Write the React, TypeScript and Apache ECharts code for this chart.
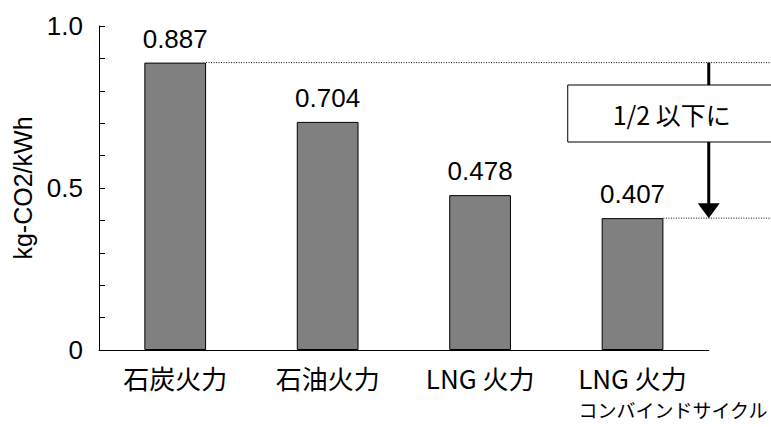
import React, { useEffect, useRef } from 'react';
import * as echarts from 'echarts';

const categories = ['石炭火力', '石油火力', 'LNG 火力', 'LNG 火力\nコンバインドサイクル'];
const values = [0.887, 0.704, 0.478, 0.407];
const yTickValues = [0, 0.5, 1];
const yTickLabels = ['0', '0.5', '1.0'];
const yAxisName = 'kg-CO2/kWh';
const noteText = '1/2 以下に';

const JP = '"Noto Sans CJK JP", "Noto Sans", sans-serif';
const LAT = '"Liberation Sans", Arial, sans-serif';

export default function App() {
  const ref = useRef<HTMLDivElement>(null);
  useEffect(() => {
    document.body.style.margin = '0';
    const chart = echarts.init(ref.current!, null, { renderer: 'svg' });
    const barPct = 0.405;
    chart.setOption({
      animation: false,
      grid: { left: 99, right: 62, top: 26, bottom: 77, containLabel: false },
      xAxis: {
        type: 'category',
        data: categories,
        axisLine: { lineStyle: { color: '#000', width: 1 } },
        axisTick: { inside: true, length: 6, lineStyle: { color: '#000' } },
        axisLabel: {
          margin: 12,
          color: '#000',
          fontFamily: JP,
          fontSize: 26,
          lineHeight: 30,
          interval: 0,
          formatter: (v: string) => {
            const parts = v.split('\n');
            if (parts.length > 1) return parts[0] + '\n{s|' + parts[1] + '}';
            return v;
          },
          rich: {
            s: { fontSize: 19, lineHeight: 30, fontFamily: JP, color: '#000', padding: [4, 0, 0, 81] },
          },
        },
      },
      yAxis: {
        type: 'value',
        min: 0,
        max: 1,
        interval: 0.1,
        name: yAxisName,
        nameLocation: 'middle',
        nameGap: 64,
        nameRotate: 90,
        nameTextStyle: { color: '#000', fontFamily: LAT, fontSize: 25 },
        axisLine: { show: true, lineStyle: { color: '#000', width: 1 } },
        axisTick: { show: true, inside: true, length: 6, lineStyle: { color: '#000' } },
        splitLine: { show: false },
        axisLabel: {
          margin: 16,
          color: '#000',
          fontFamily: LAT,
          fontSize: 26,
          formatter: (v: number) => {
            const i = yTickValues.findIndex((t) => Math.abs(t - v) < 1e-9);
            return i >= 0 ? yTickLabels[i] : '';
          },
        },
      },
      series: [
        {
          type: 'bar',
          data: values,
          barWidth: barPct * 100 + '%',
          itemStyle: { color: '#808080', borderColor: '#000', borderWidth: 1 },
          label: {
            show: true,
            position: 'top',
            distance: 11,
            color: '#000',
            fontFamily: LAT,
            fontSize: 26,
            formatter: (p: any) => p.value.toFixed(3),
          },
        },
      ],
    });

    const p0 = chart.convertToPixel({ gridIndex: 0 }, [0, values[0]]) as number[];
    const p1 = chart.convertToPixel({ gridIndex: 0 }, [1, values[0]]) as number[];
    const last = values.length - 1;
    const pL = chart.convertToPixel({ gridIndex: 0 }, [last, values[last]]) as number[];
    const band = p1[0] - p0[0];
    const halfBar = (band * barPct) / 2;
    const width = chart.getWidth();
    const arrowX = pL[0] + band / 2;
    const yHigh = p0[1];
    const yLow = pL[1];
    const dotted = { stroke: '#000', lineWidth: 1, lineDash: [1, 1.5] };
    chart.setOption({
      graphic: [
        { type: 'line', shape: { x1: p0[0] + halfBar, y1: yHigh, x2: width, y2: yHigh }, style: dotted, z: 10 },
        { type: 'line', shape: { x1: pL[0] + halfBar, y1: yLow, x2: width, y2: yLow }, style: dotted, z: 10 },
        { type: 'line', shape: { x1: arrowX, y1: yHigh, x2: arrowX, y2: yLow - 12 }, style: { stroke: '#000', lineWidth: 3 }, z: 11 },
        {
          type: 'polygon',
          shape: { points: [[arrowX - 11, yLow - 15], [arrowX + 11, yLow - 15], [arrowX, yLow]] },
          style: { fill: '#000' },
          z: 11,
        },
        {
          type: 'rect',
          shape: { x: arrowX - 141, y: 85, width: 215, height: 57 },
          style: { fill: '#fff', stroke: '#000', lineWidth: 1 },
          z: 12,
        },
        {
          type: 'text',
          x: arrowX - 37,
          y: 114,
          style: { text: noteText, fill: '#000', fontFamily: JP, fontSize: 25, align: 'center', verticalAlign: 'middle' },
          z: 13,
        },
      ],
    });
    return () => chart.dispose();
  }, []);
  return <div ref={ref} style={{ width: 771, height: 427 }} />;
}
